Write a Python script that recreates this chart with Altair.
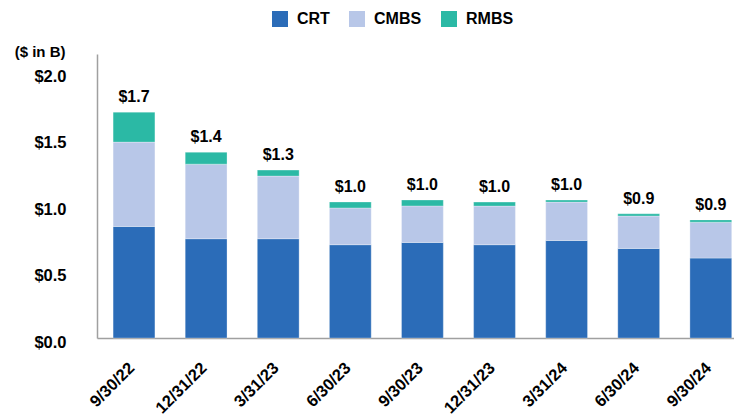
import altair as alt
import pandas as pd

FONT = "Liberation Sans"

dates = ["9/30/22", "12/31/22", "3/31/23", "6/30/23", "9/30/23",
         "12/31/23", "3/31/24", "6/30/24", "9/30/24"]
crt = [0.84, 0.748, 0.748, 0.703, 0.72, 0.703, 0.735, 0.675, 0.602]
cmbs = [0.636, 0.562, 0.472, 0.277, 0.275, 0.291, 0.289, 0.244, 0.271]
rmbs = [0.226, 0.09, 0.045, 0.045, 0.045, 0.03, 0.015, 0.017, 0.017]

series = ["CRT", "CMBS", "RMBS"]
colors = ["#2B6CB8", "#B8C7E8", "#2BB9A5"]

rows = []
for i, d in enumerate(dates):
    for k, (name, vals) in enumerate(zip(series, [crt, cmbs, rmbs])):
        rows.append({"date": d, "series": name, "value": vals[i], "order": k})
df = pd.DataFrame(rows)

totals = [a + b + c for a, b, c in zip(crt, cmbs, rmbs)]
tot = pd.DataFrame({"date": dates, "total": totals})
tot["label"] = tot["total"].map(lambda v: f"${v:.1f}")

x_enc = alt.X(
    "date:N",
    sort=dates,
    scale=alt.Scale(paddingInner=0.42, paddingOuter=0.1275, align=0.876),
    axis=alt.Axis(
        title=None,
        labelAngle=-45,
        labelAlign="right",
        labelBaseline="middle",
        labelFont=FONT,
        labelFontSize=16.5,
        labelFontWeight="bold",
        labelColor="#000000",
        labelPadding=27,
        labelOffset=-2,
        ticks=False,
        tickSize=0,
        domainColor="#a0a0a0",
        domainWidth=1.5,
        grid=False,
    ),
)

y_scale = alt.Scale(domain=[0, 2.14], nice=False, zero=True)

bars = alt.Chart(df).mark_bar(stroke="white", strokeWidth=0.5, strokeOpacity=0.6).encode(
    x=x_enc,
    y=alt.Y(
        "value:Q",
        stack="zero",
        scale=y_scale,
        axis=alt.Axis(
            values=[0, 0.5, 1.0, 1.5, 2.0],
            format="$.1f",
            title="($ in B)",
            titleAngle=0,
            titleAlign="right",
            titleBaseline="middle",
            titleX=-32,
            titleY=-3,
            titleFont=FONT,
            titleFontSize=15,
            titleFontWeight="bold",
            titleColor="#000000",
            labelFont=FONT,
            labelFontSize=16.5,
            labelFontWeight="bold",
            labelColor="#000000",
            labelPadding=31,
            labelOffset=4,
            ticks=False,
            tickSize=0,
            domainColor="#a0a0a0",
            domainWidth=1.5,
            grid=False,
        ),
    ),
    color=alt.Color(
        "series:N",
        scale=alt.Scale(domain=series, range=colors),
        legend=alt.Legend(
            orient="none",
            legendX=175,
            legendY=-43,
            direction="horizontal",
            title=None,
            symbolType="square",
            symbolSize=256,
            symbolStrokeWidth=0,
            symbolOpacity=1,
            labelFont=FONT,
            labelFontSize=16,
            labelFontWeight="bold",
            labelColor="#000000",
            labelOffset=9,
            columnPadding=19,
            padding=0,
        ),
    ),
    order=alt.Order("order:Q", sort="ascending"),
)

labels = alt.Chart(tot).mark_text(
    dy=-10, baseline="alphabetic", align="center",
    font=FONT, fontSize=16, fontWeight="bold", color="#000000",
).encode(
    x=alt.X("date:N", sort=dates),
    y=alt.Y("total:Q", scale=y_scale),
    text="label:N",
)

chart = alt.layer(bars, labels).properties(
    width=637,
    height=284,
    padding={"left": 97, "top": 54, "right": 0, "bottom": 76},
    autosize=alt.AutoSizeParams(type="none"),
).configure_view(stroke=None)

chart.save("out.html", embed_options={"renderer": "svg", "actions": False})
